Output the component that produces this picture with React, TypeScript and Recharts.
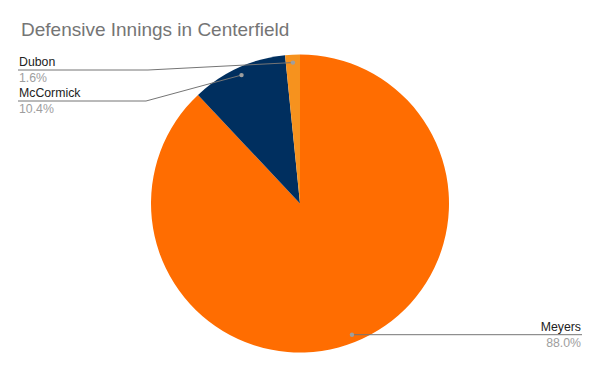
import React from 'react';
import { PieChart, Pie, Cell } from 'recharts';

const players = ['Meyers', 'McCormick', 'Dubon'];
const innings = [88.0, 10.4, 1.6];
const colors = ['#FF6D01', '#002F5F', '#F6921E'];

const data = players.map((name, i) => ({ name, value: innings[i] }));

const RAD = Math.PI / 180;

const renderLabel = (props: any) => {
  const { cx, cy, midAngle, outerRadius, name, percent, index } = props;
  const r = outerRadius * 0.947;
  const dx = cx + r * Math.cos(-midAngle * RAD);
  const dy = cy + r * Math.sin(-midAngle * RAD);
  const pct = (percent * 100).toFixed(1) + '%';
  const rightSide = dx > cx + 20;
  if (rightSide) {
    const ly = dy;
    return (
      <g key={`lbl-${index}`}>
        <line x1={dx} y1={dy} x2={582} y2={ly} stroke="#757575" strokeWidth={1} />
        <circle cx={dx} cy={dy} r={2.2} fill="#9e9e9e" />
        <text x={581} y={ly - 4} textAnchor="end" fontFamily="Arial, 'Liberation Sans', sans-serif" fontSize={12.3} fill="#222">{name}</text>
        <text x={581} y={ly + 12} textAnchor="end" fontFamily="Arial, 'Liberation Sans', sans-serif" fontSize={12.3} fill="#9e9e9e">{pct}</text>
      </g>
    );
  }
  const ly = index === 2 ? 70 : 101;
  const knee = index === 2 ? 148 : 146;
  return (
    <g key={`lbl-${index}`}>
      <polyline points={`18,${ly} ${knee},${ly} ${dx},${dy}`} fill="none" stroke="#757575" strokeWidth={1} />
      <circle cx={dx} cy={dy} r={2.2} fill="#9e9e9e" />
      <text x={19} y={ly - 4} textAnchor="start" fontFamily="Arial, 'Liberation Sans', sans-serif" fontSize={12.3} fill="#222">{name}</text>
      <text x={19} y={ly + 12} textAnchor="start" fontFamily="Arial, 'Liberation Sans', sans-serif" fontSize={12.3} fill="#9e9e9e">{pct}</text>
    </g>
  );
};

export default function App() {
  return (
    <div style={{ position: 'absolute', left: 0, top: 0, width: 600, height: 371, background: '#fff' }}>
      <div style={{ position: 'absolute', left: 21, top: 19, lineHeight: 'normal', fontFamily: 'Arial, "Liberation Sans", sans-serif', fontSize: 19, color: '#757575', whiteSpace: 'nowrap' }}>
        Defensive Innings in Centerfield
      </div>
      <PieChart width={600} height={371} margin={{ top: 0, right: 0, bottom: 0, left: 0 }}>
        <Pie
          data={data}
          dataKey="value"
          nameKey="name"
          cx={300}
          cy={203.5}
          outerRadius={149}
          startAngle={90}
          endAngle={-270}
          stroke="none"
          labelLine={false}
          label={renderLabel}
          isAnimationActive={false}
        >
          {data.map((d, i) => (
            <Cell key={d.name} fill={colors[i]} />
          ))}
        </Pie>
      </PieChart>
    </div>
  );
}
